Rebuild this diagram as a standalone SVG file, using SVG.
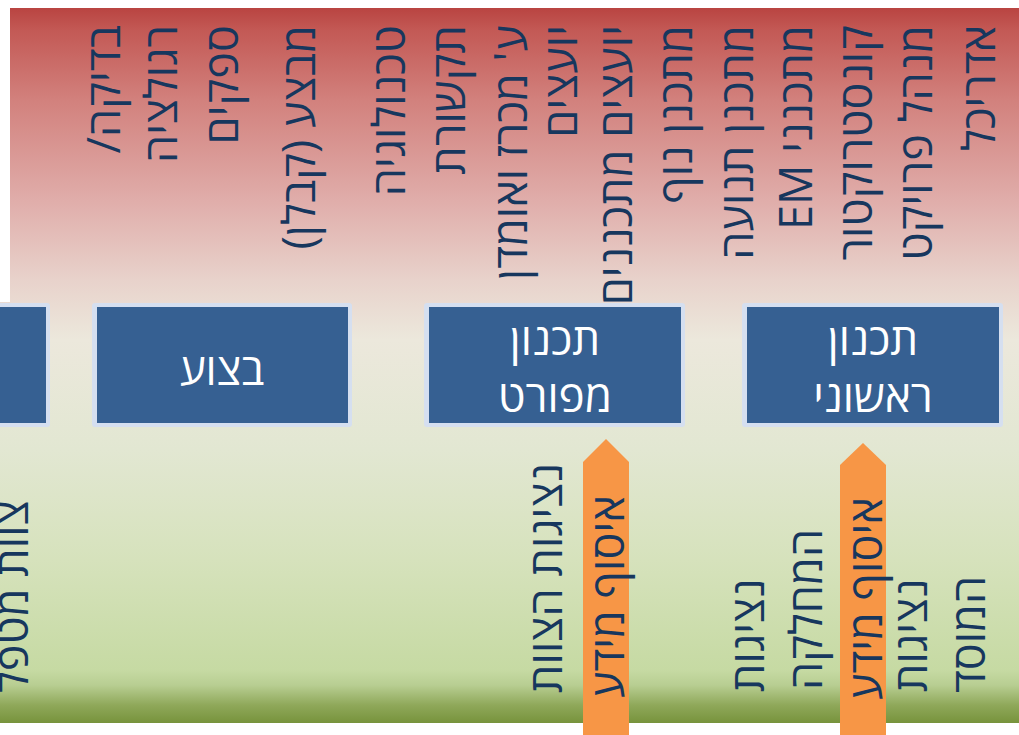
<svg xmlns="http://www.w3.org/2000/svg" width="1019" height="735" viewBox="0 0 1019 735">
<defs>
<linearGradient id="bg" gradientUnits="userSpaceOnUse" x1="0" y1="8" x2="0" y2="723">
<stop offset="0" stop-color="#B94441"/>
<stop offset="0.031" stop-color="#C35955"/>
<stop offset="0.129" stop-color="#D2817D"/>
<stop offset="0.269" stop-color="#E0ADAA"/>
<stop offset="0.38" stop-color="#E8D2CB"/>
<stop offset="0.464" stop-color="#ECE8DC"/>
<stop offset="0.618" stop-color="#E2E7D2"/>
<stop offset="0.772" stop-color="#D6E2BC"/>
<stop offset="0.926" stop-color="#C6DAA3"/>
<stop offset="0.947" stop-color="#B8CE92"/>
<stop offset="0.975" stop-color="#8FA85A"/>
<stop offset="1" stop-color="#77933C"/>
</linearGradient>
</defs>
<style>
.v { font-family: "Open Sans", "Liberation Sans", "DejaVu Sans", sans-serif; font-size: 45px; fill: #17375E; direction: rtl; }
.s { text-anchor: start; }
.e { text-anchor: end; }
.bo { fill: #D5DFF0; }
.bi { fill: #366092; }
.bt { font-family: "Open Sans", "Liberation Sans", "DejaVu Sans", sans-serif; font-size: 44px; fill: #FFFFFF; text-anchor: middle; direction: rtl; }
.ar { fill: #F79646; }
</style>
<path d="M10,8 H1019 V723 H0 V302 H10 Z" fill="url(#bg)"/>

<g id="roles-top">
<text class="v s" transform="translate(995,25) rotate(-90)">אדריכל</text>
<text class="v s" transform="translate(932,25) rotate(-90)">מנהל פרויקט</text>
<text class="v s" transform="translate(872,25) rotate(-90)">קונסטרוקטור</text>
<text class="v s" transform="translate(812,25) rotate(-90)">מתכנני EM</text>
<text class="v s" transform="translate(753,25) rotate(-90)">מתכנן תנועה</text>
<text class="v s" transform="translate(692,25) rotate(-90)">מתכנן נוף</text>
<text class="v s" transform="translate(632,25) rotate(-90)">יועצים מתכננים</text>
<text class="v s" transform="translate(577,25) rotate(-90)">יועצים</text>
<text class="v s" transform="translate(527,25) rotate(-90)">ע' מכרז ואומדן</text>
<text class="v s" transform="translate(465,25) rotate(-90)">תקשורת</text>
<text class="v s" transform="translate(405,25) rotate(-90)">טכנולוגיה</text>
<text class="v s" transform="translate(315,25) rotate(-90)">מבצע (קבלן)</text>
<text class="v s" transform="translate(238,25) rotate(-90)">ספקים</text>
<text class="v s" transform="translate(177,25) rotate(-90)">רגולציה</text>
<text class="v s" transform="translate(120,25) rotate(-90)">בדיקה/</text>
</g>

<g id="roles-bottom">
<text class="v e" transform="translate(562,693) rotate(-90)">נציגות הצוות</text>
<text class="v e" transform="translate(764,692) rotate(-90)">נציגות</text>
<text class="v e" transform="translate(822,690) rotate(-90)">המחלקה</text>
<text class="v e" transform="translate(927,692) rotate(-90)">נציגות</text>
<text class="v e" transform="translate(985,693) rotate(-90)">המוסד</text>
<text class="v e" transform="translate(28,693) rotate(-90)">צוות מטפל</text>
</g>

<g id="stage-maintenance">
<rect class="bo" x="-6" y="303" width="56" height="124" rx="3"/>
<rect class="bi" x="-2" y="307" width="48" height="116"/>
</g>
<g id="stage-execution">
<rect class="bo" x="92" y="303" width="260" height="124" rx="3"/>
<rect class="bi" x="97" y="307" width="251" height="116"/>
<text class="bt" x="222" y="385">בצוע</text>
</g>
<g id="stage-detailed">
<rect class="bo" x="424" y="303" width="261" height="124" rx="3"/>
<rect class="bi" x="429" y="307" width="252" height="116"/>
<text class="bt" x="555" y="355">תכנון</text>
<text class="bt" x="555" y="412">מפורט</text>
</g>
<g id="stage-initial">
<rect class="bo" x="742" y="303" width="261" height="124" rx="3"/>
<rect class="bi" x="747" y="307" width="252" height="116"/>
<text class="bt" x="873" y="355">תכנון</text>
<text class="bt" x="873" y="412">ראשוני</text>
</g>

<g id="connectors">
<g id="arrow-detailed">
<path class="ar" d="M583,462 L606,439 L629,462 L629,735 L583,735 Z"/>
<text class="v e" transform="translate(624,698) rotate(-90)">איסוף מידע</text>
</g>
<g id="arrow-initial">
<path class="ar" d="M840,465 L863,443 L886,465 L886,735 L840,735 Z"/>
<text class="v e" transform="translate(882,700) rotate(-90)">איסוף מידע</text>
</g>
</g>
</svg>
